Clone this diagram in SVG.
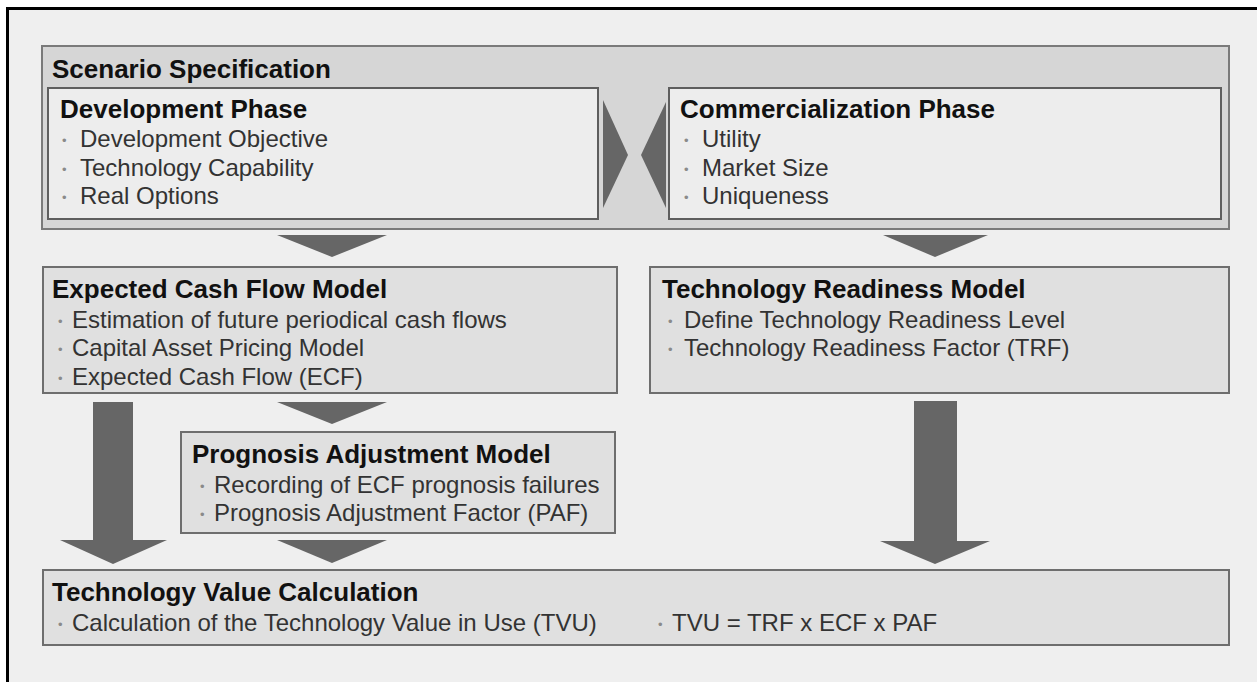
<svg xmlns="http://www.w3.org/2000/svg" width="1257" height="682" viewBox="0 0 1257 682">
<style>
.box{fill:#e0e0e0;stroke:#6e6e6e;stroke-width:2}
.band{fill:#d6d6d6;stroke:#7a7a7a;stroke-width:2}
.inner{fill:#ededed;stroke:#5e5e5e;stroke-width:2}
.arrow{fill:#666666}
.title{font-family:"Liberation Sans",Arial,sans-serif;font-size:26px;font-weight:bold;fill:#111}
.item{font-family:"Liberation Sans",Arial,sans-serif;font-size:24px;fill:#333}
.dot{fill:#8a8a8a;font-size:13px}
</style>
<rect x="0" y="0" width="1257" height="682" fill="#ffffff"/>
<rect x="9" y="10" width="1248" height="672" fill="#efefef"/>
<path d="M7.5 682 V8.5 H1257" fill="none" stroke="#000" stroke-width="3"/>

<g id="scenario">
<rect class="band" x="42" y="46" width="1187" height="183"/>
<text class="title" x="52" y="78">Scenario Specification</text>
</g>

<g id="development-phase">
<rect class="inner" x="48" y="88" width="550" height="131"/>
<text class="title" x="60" y="118">Development Phase</text>
<text class="item"><tspan class="dot" x="62" y="145">•</tspan><tspan x="80" y="147">Development Objective</tspan></text>
<text class="item"><tspan class="dot" x="62" y="174">•</tspan><tspan x="80" y="176">Technology Capability</tspan></text>
<text class="item"><tspan class="dot" x="62" y="202">•</tspan><tspan x="80" y="204">Real Options</tspan></text>
</g>

<g id="commercialization-phase">
<rect class="inner" x="669" y="88" width="552" height="131"/>
<text class="title" x="680" y="118">Commercialization Phase</text>
<text class="item"><tspan class="dot" x="684" y="145">•</tspan><tspan x="702" y="147">Utility</tspan></text>
<text class="item"><tspan class="dot" x="684" y="174">•</tspan><tspan x="702" y="176">Market Size</tspan></text>
<text class="item"><tspan class="dot" x="684" y="202">•</tspan><tspan x="702" y="204">Uniqueness</tspan></text>
</g>

<g id="expected-cash-flow-model">
<rect class="box" x="43" y="267" width="574" height="126"/>
<text class="title" x="52" y="298">Expected Cash Flow Model</text>
<text class="item"><tspan class="dot" x="58" y="326">•</tspan><tspan x="72" y="328">Estimation of future periodical cash flows</tspan></text>
<text class="item"><tspan class="dot" x="58" y="354">•</tspan><tspan x="72" y="356">Capital Asset Pricing Model</tspan></text>
<text class="item"><tspan class="dot" x="58" y="383">•</tspan><tspan x="72" y="385">Expected Cash Flow (ECF)</tspan></text>
</g>

<g id="technology-readiness-model">
<rect class="box" x="650" y="267" width="579" height="126"/>
<text class="title" x="662" y="298">Technology Readiness Model</text>
<text class="item"><tspan class="dot" x="668" y="326">•</tspan><tspan x="684" y="328">Define Technology Readiness Level</tspan></text>
<text class="item"><tspan class="dot" x="668" y="354">•</tspan><tspan x="684" y="356">Technology Readiness Factor (TRF)</tspan></text>
</g>

<g id="prognosis-adjustment-model">
<rect class="box" x="181" y="432" width="434" height="101"/>
<text class="title" x="192" y="463">Prognosis Adjustment Model</text>
<text class="item"><tspan class="dot" x="200" y="491">•</tspan><tspan x="214" y="493">Recording of ECF prognosis failures</tspan></text>
<text class="item"><tspan class="dot" x="200" y="519">•</tspan><tspan x="214" y="521">Prognosis Adjustment Factor (PAF)</tspan></text>
</g>

<g id="technology-value-calculation">
<rect class="box" x="43" y="570" width="1186" height="75"/>
<text class="title" x="52" y="601">Technology Value Calculation</text>
<text class="item"><tspan class="dot" x="58" y="629">•</tspan><tspan x="72" y="631">Calculation of the Technology Value in Use (TVU)</tspan></text>
<text class="item"><tspan class="dot" x="658" y="629">•</tspan><tspan x="672" y="631">TVU = TRF x ECF x PAF</tspan></text>
</g>

<g id="connectors">
<polygon class="arrow" points="603,100 628,155 603,208"/>
<polygon class="arrow" points="666,102 641,155 666,208"/>
<polygon class="arrow" points="277,235 387,235 332,257"/>
<polygon class="arrow" points="883,235 988,235 935,257"/>
<polygon class="arrow" points="277,402 387,402 332,424"/>
<polygon class="arrow" points="277,540 387,540 332,563"/>
<polygon class="arrow" points="93,402 133,402 133,540 167,540 113,564 60,540 93,540"/>
<polygon class="arrow" points="914,401 957,401 957,541 990,541 935,564 880,541 914,541"/>
</g>
</svg>
